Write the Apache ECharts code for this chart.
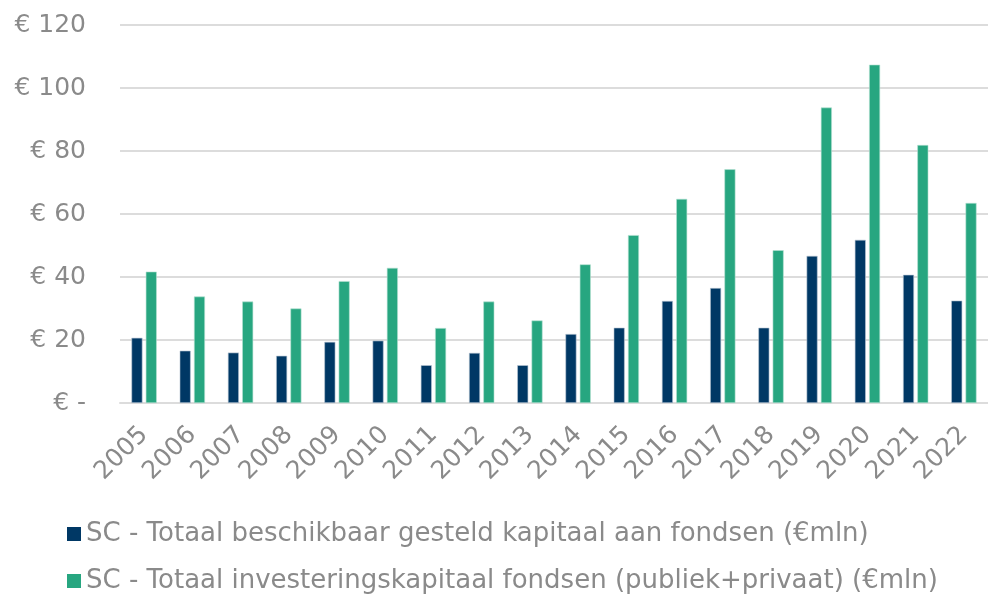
<!DOCTYPE html>
<html>
<head>
<meta charset="utf-8">
<script src="https://cdn.jsdelivr.net/npm/echarts@6/dist/echarts.min.js"></script>
<style>html,body{margin:0;padding:0;background:#fff;}#c{width:988px;height:598px;}</style>
</head>
<body>
<div id="c"></div>
<script>
const categories = ['2005','2006','2007','2008','2009','2010','2011','2012','2013','2014','2015','2016','2017','2018','2019','2020','2021','2022'];
const seriesNames = ['SC - Totaal beschikbaar gesteld kapitaal aan fondsen (€mln)', 'SC - Totaal investeringskapitaal fondsen (publiek+privaat) (€mln)'];
const beschikbaar = [20.7, 16.6, 16.0, 15.0, 19.4, 19.8, 12.0, 15.9, 12.0, 21.9, 23.9, 32.4, 36.5, 23.9, 46.7, 51.8, 40.7, 32.5];
const investering = [41.7, 33.8, 32.2, 30.0, 38.7, 42.9, 23.8, 32.2, 26.2, 44.0, 53.3, 64.8, 74.2, 48.5, 93.8, 107.4, 81.9, 63.5];
const yTicks = [0, 20, 40, 60, 80, 100, 120];

const font = "'DejaVu Sans', Verdana, sans-serif";
const txt = '#8a8a8a';
function mkLegend(name, top) {
  return {
    orient: 'horizontal', left: 62, top: top,
    itemWidth: 14, itemHeight: 14,
    icon: 'rect',
    itemStyle: {borderWidth: 0},
    textStyle: {color: txt, fontSize: 26, fontFamily: font, padding: [0,0,0,0]},
    data: [name]
  };
}
const chart = echarts.init(document.getElementById('c'), null, {renderer: 'canvas'});
chart.setOption({
  animation: false,
  backgroundColor: '#fff',
  textStyle: {fontFamily: font},
  grid: {left: 120, right: -10, top: 25, bottom: 195, containLabel: false},
  legend: [mkLegend(seriesNames[0], 516), mkLegend(seriesNames[1], 563)],
  xAxis: {
    type: 'category', data: categories,
    axisLine: {show: true, lineStyle: {color: '#dcdcdc', width: 2}},
    axisTick: {show: false},
    axisLabel: {rotate: 45, color: txt, fontSize: 25, margin: 28, fontFamily: font, interval: 0}
  },
  yAxis: {
    type: 'value', min: yTicks[0], max: yTicks[yTicks.length-1], interval: 20,
    axisLine: {show: false}, axisTick: {show: false},
    splitLine: {lineStyle: {color: '#dcdcdc', width: 2}},
    axisLabel: {color: txt, fontSize: 25, margin: 34, fontFamily: font,
      formatter: v => v === 0 ? '€ -' : '€ ' + v}
  },
  series: [
    {name: seriesNames[0], type: 'bar', data: beschikbaar, barWidth: 11, barGap: '30%',
     itemStyle: {color: '#003865', borderColor: '#b9c6d3', borderWidth: 0.6}},
    {name: seriesNames[1], type: 'bar', data: investering, barWidth: 11,
     itemStyle: {color: '#27a680', borderColor: '#b5e0d2', borderWidth: 0.6}}
  ]
});
</script>
</body>
</html>
